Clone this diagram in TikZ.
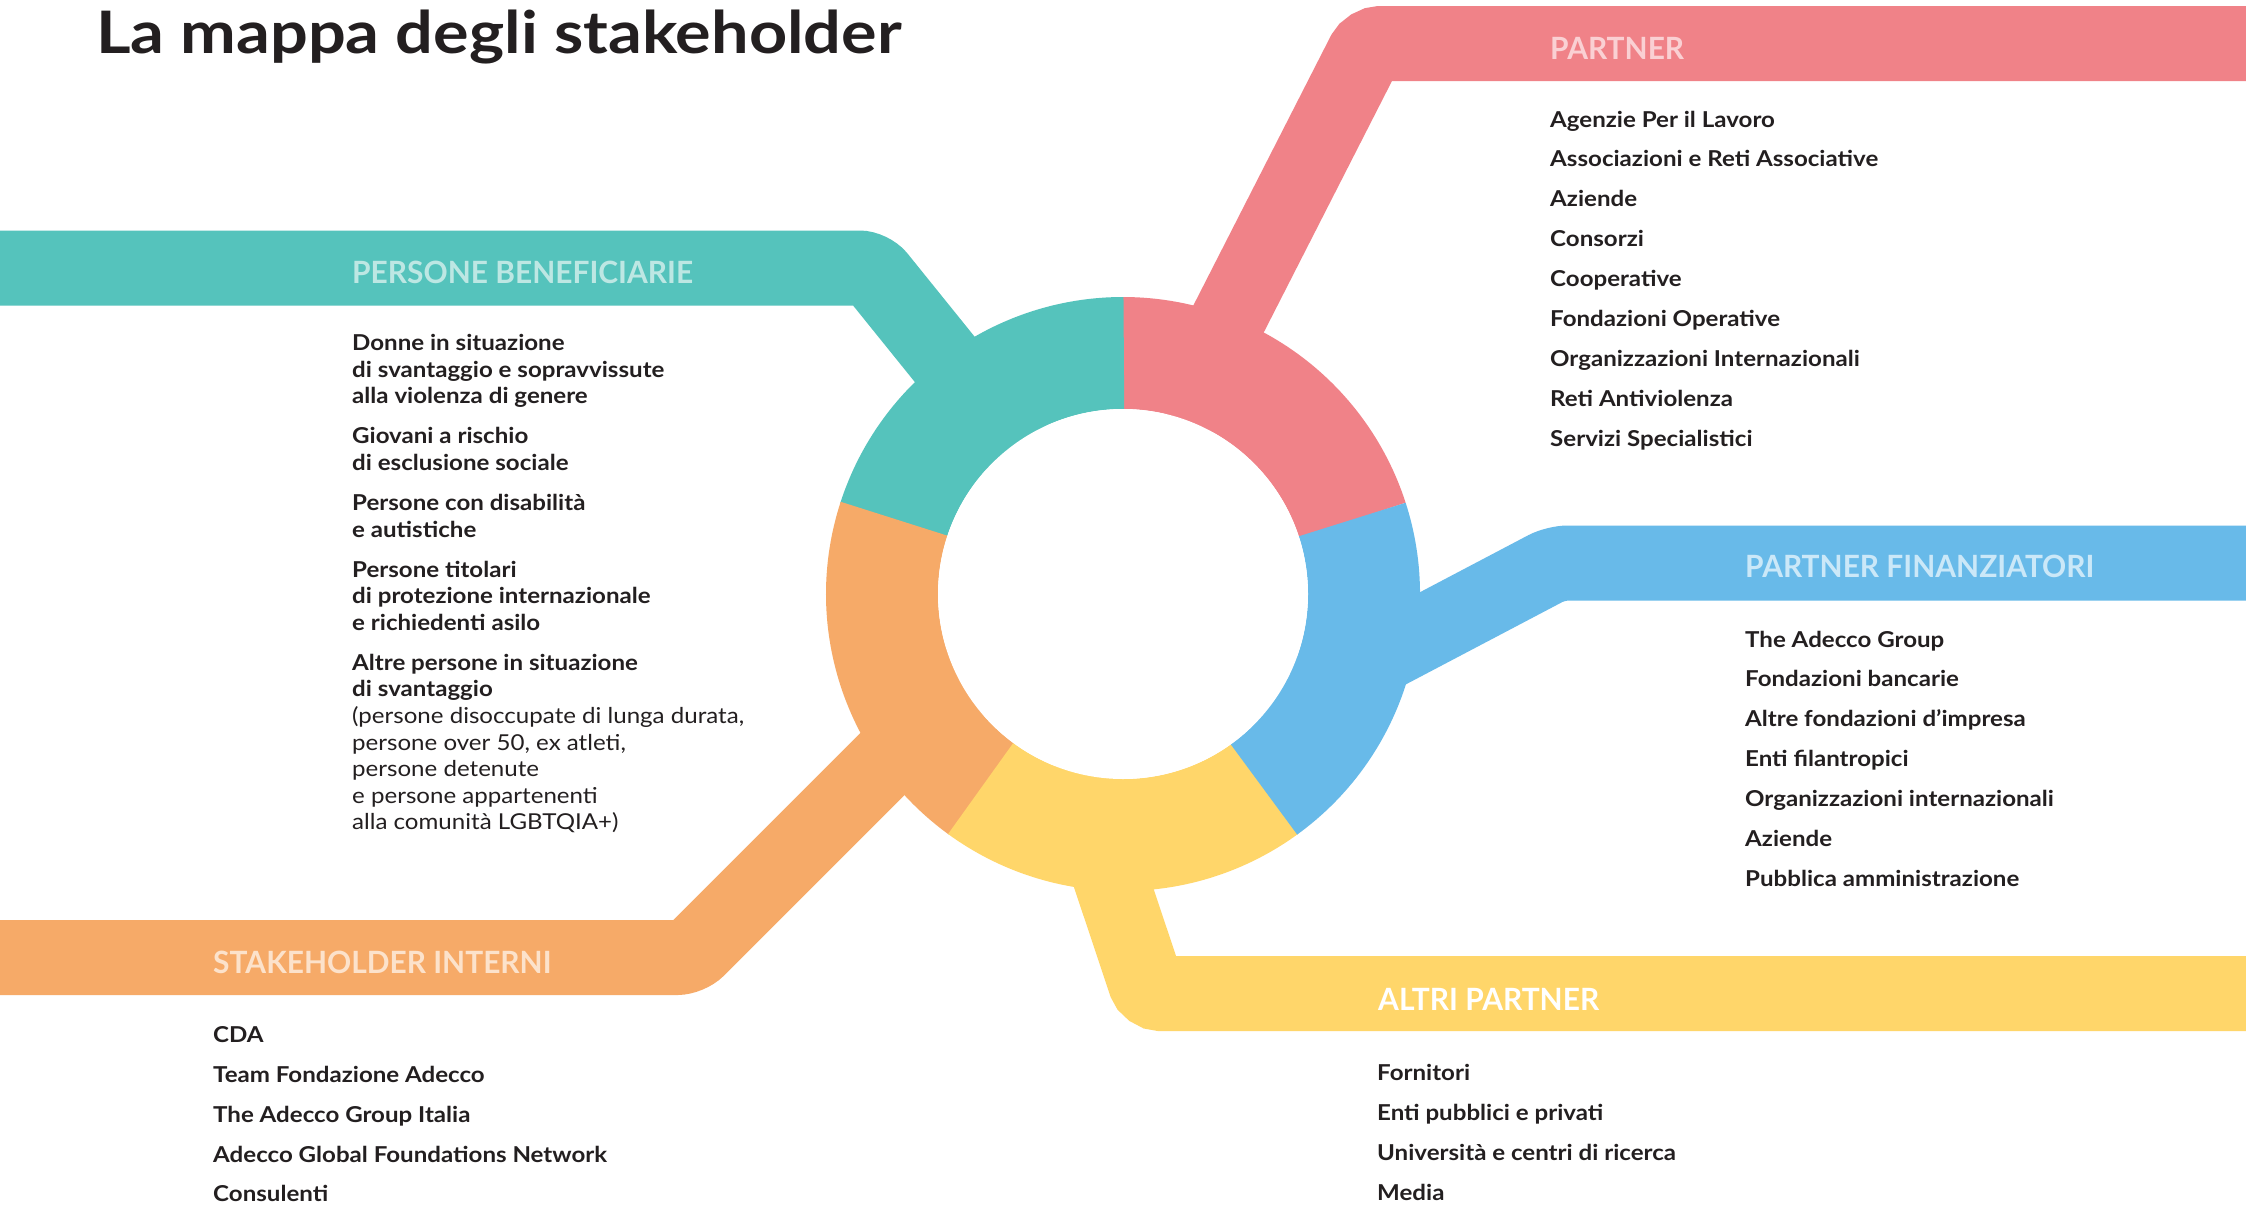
\documentclass[tikz,border=0pt]{standalone}
\usepackage{fontspec}
\setmainfont[FakeStretch=1.10]{Lato}
\newfontfamily\hdfont[FakeStretch=0.975]{Lato}
\newfontfamily\ttlfont[FakeStretch=1.136]{Lato}
\usetikzlibrary{calc}
\definecolor{cteal}{HTML}{55C3BC}
\definecolor{cpink}{HTML}{F08288}
\definecolor{cblue}{HTML}{68BAE9}
\definecolor{corange}{HTML}{F6AA68}
\definecolor{cyellow}{HTML}{FFD66A}
\definecolor{ink}{HTML}{231F20}
\definecolor{tteal}{HTML}{BDE7E3}
\definecolor{tpink}{HTML}{FAD0D3}
\definecolor{tblue}{HTML}{CBE8F8}
\definecolor{torange}{HTML}{FCE2CB}
\newcommand\stk[2]{\vtop{\baselineskip=#1\lineskiplimit=-1000pt\lineskip=0pt\relax #2}}
\tikzset{
  band/.style={line width=75pt, rounded corners=12pt},
  seg/.style={line width=112pt},
  hd/.style={anchor=base west, inner sep=0pt, font=\hdfont\bfseries\fontsize{30.7}{36}\selectfont},
  lst/.style={anchor=base west, inner sep=0pt, text=ink, font=\bfseries\fontsize{21.9}{26}\selectfont},
}
\begin{document}
\begin{tikzpicture}[x=1pt, y=-1pt]
\fill[white] (0,0) rectangle (2246,1205);
\useasboundingbox (0,0) rectangle (2246,1205);

% title
\node[anchor=base west, inner sep=0pt, text=ink, font=\ttlfont\bfseries\fontsize{58.6}{70}\selectfont] (title) at (96,53) {La mappa degli stakeholder};

% centre and leg coordinates
\coordinate (c) at (1123,594);
\coordinate (tealEnd) at (1034,470);
\coordinate (tealBend) at (871,268);
\coordinate (tealFar) at (-10,268);
\coordinate (pinkEnd) at (1177,420);
\coordinate (pinkBend) at (1369,43.5);
\coordinate (pinkFar) at (2260,43.5);
\coordinate (blueEnd) at (1250,724);
\coordinate (blueBend) at (1556,563);
\coordinate (blueFar) at (2260,563);
\coordinate (orangeEnd) at (980,666.5);
\coordinate (orangeBend) at (689,957.5);
\coordinate (orangeFar) at (-10,957.5);
\coordinate (yellowEnd) at (1071,760);
\coordinate (yellowBend) at (1149,993.5);
\coordinate (yellowFar) at (2260,993.5);

% legs and bands
\draw[band, cteal] (tealFar) -- (tealBend) -- (tealEnd);
\draw[band, cpink] (pinkEnd) -- (pinkBend) -- (pinkFar);
\draw[band, cblue] (blueEnd) -- (blueBend) -- (blueFar);
\draw[band, corange] (orangeFar) -- (orangeBend) -- (orangeEnd);
\draw[band, cyellow] (yellowEnd) -- (yellowBend) -- (yellowFar);

% ring (segments overlap slightly to avoid seams)
\draw[seg, cpink] ($(c)+(17.8:241pt)$) arc[start angle=17.8, end angle=90.3, radius=241pt];
\draw[seg, cteal] ($(c)+(89.8:241pt)$) arc[start angle=89.8, end angle=162.3, radius=241pt];
\draw[seg, corange] ($(c)+(161.8:241pt)$) arc[start angle=161.8, end angle=234.3, radius=241pt];
\draw[seg, cyellow] ($(c)+(233.8:241pt)$) arc[start angle=233.8, end angle=306.3, radius=241pt];
\draw[seg, cblue] ($(c)+(305.8:241pt)$) arc[start angle=305.8, end angle=378, radius=241pt];
\fill[white] (c) circle[radius=185pt];

% headers
\node[hd, text=tpink] (hPartner) at (1550,59) {PARTNER};
\node[hd, text=tteal] (hBenef) at (352,283) {PERSONE BENEFICIARIE};
\node[hd, text=tblue] (hFin) at (1745,577) {PARTNER FINANZIATORI};
\node[hd, text=torange] (hInt) at (213,973) {STAKEHOLDER INTERNI};
\node[hd, text=white] (hAltri) at (1378,1010.7) {ALTRI PARTNER};

% lists
\node[lst] (lPartner) at (1550,127) {\stk{39.9pt}{%
\hbox{Agenzie Per il Lavoro}
\hbox{Associazioni e Reti Associative}
\hbox{Aziende}
\hbox{Consorzi}
\hbox{Cooperative}
\hbox{Fondazioni Operative}
\hbox{Organizzazioni Internazionali}
\hbox{Reti Antiviolenza}
\hbox{Servizi Specialistici}}};

\node[lst] (lFin) at (1745,647) {\stk{39.9pt}{%
\hbox{The Adecco Group}
\hbox{Fondazioni bancarie}
\hbox{Altre fondazioni d’impresa}
\hbox{Enti filantropici}
\hbox{Organizzazioni internazionali}
\hbox{Aziende}
\hbox{Pubblica amministrazione}}};

\node[lst] (lInt) at (213,1042.7) {\stk{39.8pt}{%
\hbox{CDA}
\hbox{Team Fondazione Adecco}
\hbox{The Adecco Group Italia}
\hbox{Adecco Global Foundations Network}
\hbox{Consulenti}}};

\node[lst] (lAltri) at (1377,1080) {\stk{40pt}{%
\hbox{Fornitori}
\hbox{Enti pubblici e privati}
\hbox{Università e centri di ricerca}
\hbox{Media}}};

\node[lst] (lBenef) at (352,350.7) {\stk{26.6pt}{%
\hbox{Donne in situazione}
\hbox{di svantaggio e sopravvissute}
\hbox{alla violenza di genere}
\vskip13.4pt
\hbox{Giovani a rischio}
\hbox{di esclusione sociale}
\vskip13.4pt
\hbox{Persone con disabilità}
\hbox{e autistiche}
\vskip13.4pt
\hbox{Persone titolari}
\hbox{di protezione internazionale}
\hbox{e richiedenti asilo}
\vskip13.4pt
\hbox{Altre persone in situazione}
\hbox{di svantaggio}
\hbox{\mdseries (persone disoccupate di lunga durata,}
\hbox{\mdseries persone over 50, ex atleti,}
\hbox{\mdseries persone detenute}
\hbox{\mdseries e persone appartenenti}
\hbox{\mdseries alla comunità LGBTQIA+)}}};
\end{tikzpicture}
\end{document}
